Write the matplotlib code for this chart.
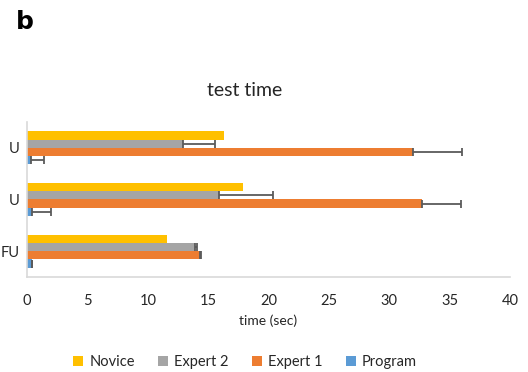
import matplotlib.pyplot as plt
from matplotlib.patches import Patch
import numpy as np

plt.rcParams['font.family'] = ['Lato', 'DejaVu Sans']

categories = ['U', 'U', 'FU']
series = ['Novice', 'Expert 2', 'Expert 1', 'Program']
colors = ['#FFC000', '#A5A5A5', '#ED7D31', '#5B9BD5']

novice = [16.3, 17.9, 11.6]
expert2 = [12.9, 15.9, 13.95]
expert1 = [32.0, 32.7, 14.3]
program = [0.35, 0.4, 0.4]

novice_err = [0, 0, 0]
expert2_err = [2.7, 4.45, 0.1]
expert1_err = [4.05, 3.2, 0.12]
program_err = [1.05, 1.6, 0.05]

values = [novice, expert2, expert1, program]
errors = [novice_err, expert2_err, expert1_err, program_err]

fig = plt.figure(figsize=(5.28, 3.72), dpi=100)
ax = fig.add_axes([0.0511, 0.2554, 0.915, 0.4167])

y = np.arange(len(categories))[::-1]
h = 0.16
offsets = [1.5 * h, 0.5 * h, -0.5 * h, -1.5 * h]

for vals, errs, col, off in zip(values, errors, colors, offsets):
    ax.barh(y + off, vals, height=h, color=col)
    if any(errs):
        ax.errorbar(vals, y + off, xerr=[[0] * len(errs), errs], fmt='none',
                    ecolor='#5a5a5a', elinewidth=1.3, capsize=3, capthick=1.3)

ax.set_xlim(0, 40)
ax.set_ylim(-0.5, 2.5)
ax.set_xticks(range(0, 41, 5))
ax.set_yticks(y)
ax.set_yticklabels(categories, fontsize=10.5, color='#262626')
ax.tick_params(axis='both', length=0)
ax.tick_params(axis='x', pad=12, labelsize=10.5, labelcolor='#262626')
ax.tick_params(axis='y', pad=5.5)
for s in ['top', 'right']:
    ax.spines[s].set_visible(False)
for s in ['left', 'bottom']:
    ax.spines[s].set_color('#D9D9D9')
    ax.spines[s].set_linewidth(1.2)

ax.set_xlabel('time (sec)', fontsize=10, color='#262626', labelpad=5)
fig.text(245 / 528, 1 - 90 / 372, 'test time', ha='center', va='center',
         fontsize=14, color='#262626')
fig.text(16 / 528, 1 - 22 / 372, 'b', ha='left', va='center',
         fontsize=18, fontweight='bold', family='DejaVu Sans')

handles = [Patch(facecolor=c, label=s) for c, s in zip(colors, series)]
fig.legend(handles=handles, loc='center', bbox_to_anchor=(245 / 528, 1 - 362 / 372),
           ncol=4, frameon=False, fontsize=10.5, handlelength=0.7,
           handleheight=0.7, handletextpad=0.4, columnspacing=1.6,
           labelcolor='#262626')

fig.savefig('out.png', dpi=100)
